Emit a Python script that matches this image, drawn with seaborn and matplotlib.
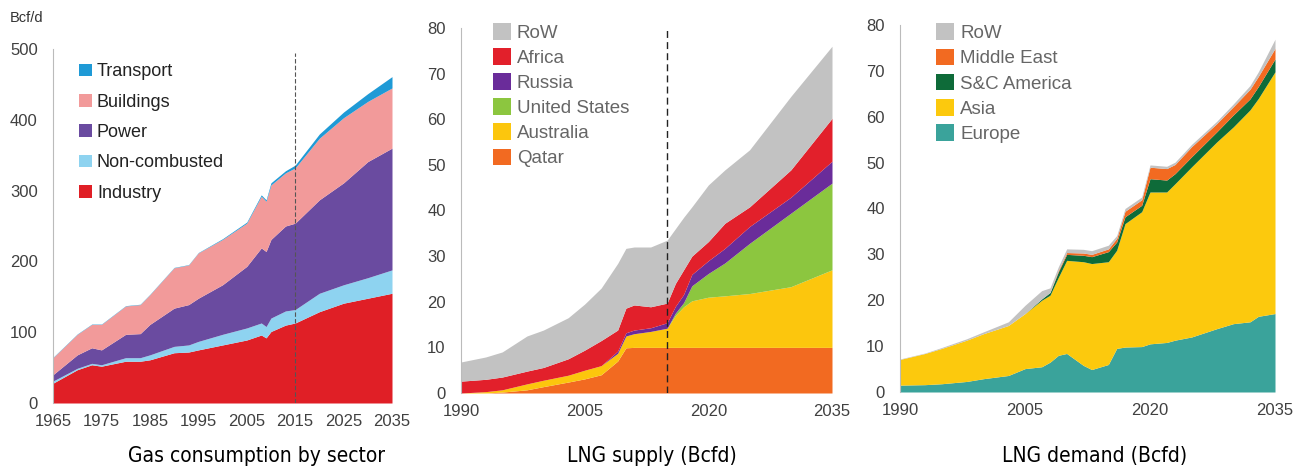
import numpy as np
import matplotlib
matplotlib.use("Agg")
import matplotlib.pyplot as plt
import seaborn as sns

# --- gas consumption by sector (Bcf/d)
sector_years = [1965, 1970, 1973, 1975, 1980, 1983, 1985, 1990, 1993, 1995, 2000,
                2005, 2008, 2009, 2010, 2013, 2015, 2020, 2025, 2030, 2035]
industry = [28, 47, 54, 52, 59, 59, 61, 71, 72, 75, 82, 89, 96, 92, 101, 110, 113, 129, 141, 148, 155]
non_combusted = [3, 2, 2, 2, 5, 5, 7, 9, 10, 12, 15, 17, 17, 16, 19, 20, 19, 26, 26, 29, 33]
power = [9, 19, 22, 21, 33, 34, 43, 54, 57, 61, 70, 87, 106, 106, 111, 120, 122, 132, 144, 164, 172]
buildings = [24, 29, 33, 36, 40, 41, 42, 57, 56, 64, 64, 61, 73, 71, 77, 75, 78, 87, 92, 85, 85]
transport = [0.5, 0.5, 0.5, 0.5, 0.5, 0.5, 0.5, 0.5, 0.5, 0.5, 1, 1.5, 2, 2, 3, 3, 4, 6, 8, 11, 16]
sector_labels = ["Industry", "Non-combusted", "Power", "Buildings", "Transport"]
sector_colors = ["#e01f26", "#8ed3f0", "#6a4ba0", "#f29a9a", "#1f9ad6"]

# --- LNG supply (Bcfd)
supply_years = [1990, 1993, 1995, 1998, 2000, 2003, 2005, 2007, 2009, 2010, 2011,
                2013, 2015, 2016, 2017, 2018, 2020, 2022, 2025, 2030, 2035]
qatar = [0, 0, 0.2, 0.7, 1.4, 2.4, 3.1, 4.0, 7.0, 9.9, 10, 10, 10, 10, 10, 10, 10, 10, 10, 10, 10]
australia = [0, 0.3, 0.5, 1.3, 1.4, 1.5, 1.9, 2.0, 1.7, 2.6, 3.0, 3.5, 4.2, 7.0, 8.9, 10.2, 11.0, 11.3, 11.8, 13.3, 17.0]
united_states = [0, 0, 0, 0, 0, 0, 0, 0, 0, 0, 0, 0, 0, 0.5, 0.9, 3.3, 5.2, 7.2, 11.0, 16.1, 19.0]
russia = [0, 0, 0, 0, 0, 0, 0, 0, 0.5, 0.7, 0.8, 0.8, 1.2, 1.5, 1.8, 2.5, 2.8, 3.2, 3.7, 3.5, 4.8]
africa = [2.6, 2.7, 2.8, 2.8, 2.8, 3.6, 4.4, 5.5, 4.6, 5.4, 5.5, 4.6, 4.3, 5.0, 5.4, 4.0, 4.2, 5.5, 4.3, 6.0, 9.4]
supply_row = [4.2, 4.9, 5.5, 7.7, 8.2, 9.0, 10.1, 11.5, 14.6, 13.1, 12.7, 13.1, 13.8, 12.0, 11.5, 10.8, 12.4, 11.7, 12.5, 16.1, 15.8]
supply_labels = ["Qatar", "Australia", "United States", "Russia", "Africa", "RoW"]
supply_colors = ["#f26a21", "#fcc60d", "#8cc63f", "#6a2c9a", "#e2202b", "#c2c2c2"]

# --- LNG demand (Bcfd)
demand_years = [1990, 1993, 1995, 1998, 2000, 2003, 2005, 2007, 2008, 2009, 2010, 2012, 2013,
                2015, 2016, 2017, 2019, 2020, 2022, 2023, 2025, 2028, 2030, 2032, 2033, 2035]
europe = [1.5, 1.6, 1.8, 2.3, 2.9, 3.6, 5.1, 5.5, 6.5, 8.0, 8.4, 5.8, 4.9,
          6.0, 9.5, 9.8, 9.9, 10.5, 10.8, 11.3, 12.0, 13.8, 14.9, 15.3, 16.5, 17.1]
asia = [5.6, 6.8, 7.7, 9.0, 9.8, 10.9, 12.0, 14.5, 14.6, 17.0, 20.3, 22.6, 23.1,
        22.4, 21.4, 26.9, 29.4, 33.1, 32.8, 34.1, 37.1, 40.7, 42.9, 46.2, 47.5, 52.7]
sc_america = [0, 0, 0, 0, 0, 0, 0, 0.3, 0.6, 1.2, 1.3, 1.4, 1.5,
              2.2, 1.8, 1.5, 1.4, 2.9, 2.6, 2.2, 2.2, 2.2, 2.6, 2.4, 2.6, 2.8]
middle_east = [0, 0, 0, 0, 0, 0, 0, 0, 0, 0.3, 0.4, 0.5, 0.5,
               0.6, 0.8, 1.2, 1.2, 2.5, 2.5, 2.0, 2.2, 1.8, 1.8, 2.1, 2.2, 2.3]
demand_row = [0.1, 0.1, 0.2, 0.3, 0.4, 0.8, 1.8, 1.8, 1.0, 0.8, 0.8, 0.8, 0.8,
              0.8, 0.6, 0.6, 0.6, 0.5, 0.5, 0.5, 0.5, 0.5, 0.6, 0.8, 1.0, 2.0]
demand_labels = ["Europe", "Asia", "S&C America", "Middle East", "RoW"]
demand_colors = ["#3aa39b", "#fcc90d", "#0e6b39", "#f26a21", "#c2c2c2"]

sns.set_theme(style="white")
plt.rcParams["font.family"] = ["Liberation Sans", "DejaVu Sans"]

fig = plt.figure(figsize=(13.11, 4.68), dpi=100)
ax1 = fig.add_axes([53 / 1311, 1 - 403 / 468, 339 / 1311, 354 / 468])
ax2 = fig.add_axes([461 / 1311, 1 - 393 / 468, 371 / 1311, 365 / 468])
ax3 = fig.add_axes([900 / 1311, 1 - 392 / 468, 375 / 1311, 367 / 468])

tick_color = "#404040"


def style_axis(ax, xlim, ylim, xticks, yticks):
    ax.set_xlim(*xlim)
    ax.set_ylim(*ylim)
    ax.set_xticks(xticks)
    ax.set_yticks(yticks)
    sns.despine(ax=ax, bottom=True)
    ax.spines["left"].set_color("#bbbbbb")
    ax.spines["left"].set_linewidth(0.8)
    ax.tick_params(axis="x", labelsize=12, colors=tick_color, length=0, pad=8)
    ax.tick_params(axis="y", labelsize=12, colors=tick_color, length=3,
                   color="#bbbbbb", direction="in", pad=11)
    ax.grid(False)
    ax.set_facecolor("none")


def add_legend(ax, polys, labels, loc_xy, fontsize, handlelen, spacing, color):
    ax.legend(polys[::-1], labels[::-1], loc="upper left", bbox_to_anchor=loc_xy,
              frameon=False, fontsize=fontsize, handlelength=handlelen,
              handleheight=handlelen, handletextpad=0.3, labelspacing=spacing,
              labelcolor=color, borderaxespad=0)


# panel 1
polys = ax1.stackplot(sector_years, industry, non_combusted, power, buildings, transport,
                      colors=sector_colors, linewidth=0)
ax1.axvline(2015, color="#555555", lw=0.8, ls=(0, (4, 2)), ymax=0.99)
style_axis(ax1, (1965, 2035), (0, 500), range(1965, 2036, 10), range(0, 501, 100))
add_legend(ax1, polys, sector_labels, (0.055, 0.98), 13, 0.7, 0.74, "#222222")

# panel 2
polys = ax2.stackplot(supply_years, qatar, australia, united_states, russia, africa, supply_row,
                      colors=supply_colors, linewidth=0)
ax2.axvline(2015, color="#222222", lw=1.0, ls=(0, (5, 3)), ymax=1.0)
style_axis(ax2, (1990, 2035), (0, 80), [1990, 2005, 2020, 2035], range(0, 81, 10))
add_legend(ax2, polys, supply_labels, (0.065, 1.035), 13.5, 1.0, 0.34, "#666666")

# panel 3
polys = ax3.stackplot(demand_years, europe, asia, sc_america, middle_east, demand_row,
                      colors=demand_colors, linewidth=0)
style_axis(ax3, (1990, 2035), (0, 80), [1990, 2005, 2020, 2035], range(0, 81, 10))
add_legend(ax3, polys, demand_labels, (0.075, 1.025), 13.5, 1.0, 0.34, "#666666")

fig.text(10 / 1311, 1 - 18 / 468, "Bcf/d", fontsize=10.5, color="#333333", va="center")

for cx, title in [(257, "Gas consumption by sector"), (652, "LNG supply (Bcfd)"),
                  (1095, "LNG demand (Bcfd)")]:
    fig.text(cx / 1311, 1 - 456 / 468, title, fontsize=15, ha="center", va="center",
             family="DejaVu Sans", fontstretch="condensed", color="black")

fig.savefig("out.png", dpi=100)
